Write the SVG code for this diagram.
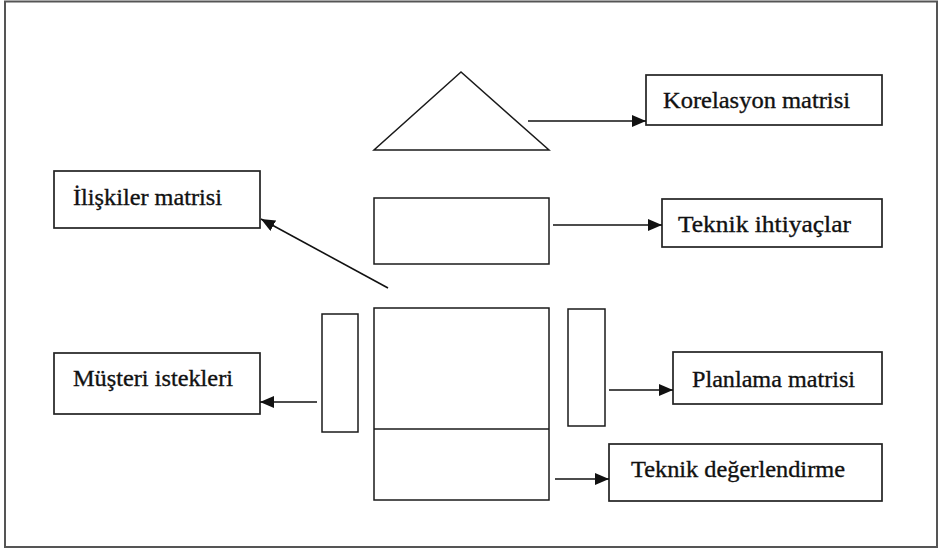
<svg xmlns="http://www.w3.org/2000/svg" width="939" height="550" viewBox="0 0 939 550">
  <style>
    .frame { fill: #ffffff; stroke: #555555; stroke-width: 2; }
    .box { fill: #ffffff; stroke: #222222; stroke-width: 1.7; }
    .shape { fill: #ffffff; stroke: #1a1a1a; stroke-width: 1.5; }
    .label { font-family: "Liberation Serif", "Times New Roman", serif; font-size: 24px; fill: #111111; stroke: #111111; stroke-width: 0.35; }
    .conn { stroke: #111111; stroke-width: 1.6; fill: none; marker-end: url(#arrow); }
  </style>
  <defs>
    <marker id="arrow" markerUnits="userSpaceOnUse" markerWidth="14" markerHeight="12" viewBox="0 0 14 12" refX="14" refY="6" orient="auto">
      <path d="M0,0 L14,6 L0,12 Z" fill="#111111"/>
    </marker>
  </defs>

  <!-- outer border -->
  <rect class="frame" x="5" y="1.5" width="932" height="545.5"/>

  <!-- house of quality parts -->
  <g id="roof">
    <polygon class="shape" points="461,72 374,150 549,150"/>
  </g>
  <g id="technical-row">
    <rect class="shape" x="374" y="198" width="175" height="66"/>
  </g>
  <g id="relationship-matrix">
    <rect class="shape" x="374" y="308" width="175" height="192"/>
    <line class="shape" x1="374" y1="429" x2="549" y2="429"/>
  </g>
  <g id="customer-column">
    <rect class="shape" x="322" y="314" width="36" height="118"/>
  </g>
  <g id="planning-column">
    <rect class="shape" x="568" y="309" width="37" height="117"/>
  </g>

  <!-- labels -->
  <g id="korelasyon">
    <rect class="box" x="646" y="75" width="236" height="50"/>
    <text class="label" x="663" y="108" textLength="187" lengthAdjust="spacingAndGlyphs">Korelasyon matrisi</text>
  </g>
  <g id="teknik-ihtiyaclar">
    <rect class="box" x="662" y="199" width="220" height="48"/>
    <text class="label" x="678" y="232" textLength="173" lengthAdjust="spacingAndGlyphs">Teknik ihtiyaçlar</text>
  </g>
  <g id="iliskiler">
    <rect class="box" x="54" y="171" width="206" height="57"/>
    <text class="label" x="73" y="205" textLength="149" lengthAdjust="spacingAndGlyphs">İlişkiler matrisi</text>
  </g>
  <g id="musteri">
    <rect class="box" x="54" y="353" width="206" height="61"/>
    <text class="label" x="73" y="386" textLength="160" lengthAdjust="spacingAndGlyphs">Müşteri istekleri</text>
  </g>
  <g id="planlama">
    <rect class="box" x="673" y="352" width="209" height="52"/>
    <text class="label" x="692" y="387" textLength="163" lengthAdjust="spacingAndGlyphs">Planlama matrisi</text>
  </g>
  <g id="teknik-degerlendirme">
    <rect class="box" x="609" y="444" width="273" height="57"/>
    <text class="label" x="631" y="477" textLength="214" lengthAdjust="spacingAndGlyphs">Teknik değerlendirme</text>
  </g>

  <!-- connectors -->
  <g id="connectors">
    <line class="conn" x1="528" y1="121" x2="646" y2="121"/>
    <line class="conn" x1="553" y1="225" x2="662" y2="225"/>
    <line class="conn" x1="388" y1="288" x2="261" y2="219"/>
    <line class="conn" x1="317" y1="402" x2="260" y2="402"/>
    <line class="conn" x1="609" y1="390" x2="673" y2="390"/>
    <line class="conn" x1="555" y1="479" x2="609" y2="479"/>
  </g>
</svg>
